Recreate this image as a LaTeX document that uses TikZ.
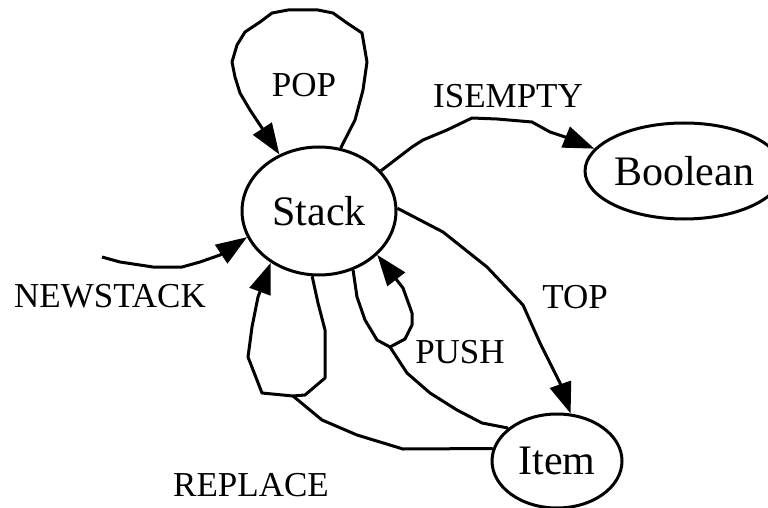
\documentclass[tikz,border=0pt]{standalone}
\usepackage{fontspec}
\setmainfont{Liberation Serif}
\usetikzlibrary{shapes.geometric,arrows.meta}

\tikzset{
  state/.style={ellipse, draw, line width=3pt, inner sep=0pt,
    font=\fontsize{42}{46}\selectfont},
  wire/.style={line width=3pt, line join=round},
  arrowed/.style={-{Triangle[length=31pt,width=22pt]}},
  oplabel/.style={font=\fontsize{35}{40}\selectfont, inner sep=0pt}
}

\begin{document}
\begin{tikzpicture}[x=1pt,y=-1pt]
\useasboundingbox (0,0) rectangle (768,508);

% sorts
\node[state, minimum width=154pt, minimum height=128pt] (stack) at (319,211) {Stack};
\node[state, minimum width=192pt, minimum height=96pt] (boolean) at (684,171) {Boolean};
\node[state, minimum width=130pt, minimum height=94pt] (item) at (557,461) {Item};

% operation names
\node[oplabel] (lpop) at (304,85) {POP};
\node[oplabel] (lisempty) at (508,96) {ISEMPTY};
\node[oplabel] (ltop) at (575,297) {TOP};
\node[oplabel] (lnewstack) at (110,296) {NEWSTACK};
\node[oplabel] (lpush) at (460,352) {PUSH};
\node[oplabel] (lreplace) at (251,485) {REPLACE};

% free end of NEWSTACK and the joins of the two-argument operations
\coordinate (newsrc) at (102,257);
\coordinate (pushjoin) at (390,347);
\coordinate (repljoin) at (293,396);

% POP : Stack -> Stack
\draw[wire,arrowed] (stack.71.6) -- (355,120) -- (363,90) -- (367,62) -- (362,33)
  -- (347,23) -- (333,13) -- (318,10) -- (288,10) -- (272,13) -- (260,22)
  -- (245,32) -- (237,45) -- (232,62) -- (235,77) -- (240,93) -- (250,110)
  -- (262,128) -- (stack.125.7);

% ISEMPTY : Stack -> Boolean
\draw[wire,arrowed] (stack.33.9) -- (412,147) -- (423,140) -- (447,130) -- (472,118)
  -- (497,119) -- (532,122) -- (550,132) -- (568,138) -- (boolean.166.4);

% TOP : Stack -> Item
\draw[wire,arrowed] (stack.2.2) -- (443,232) -- (487,267) -- (523,305) -- (540,343)
  -- (560,383) -- (item.74.2);

% NEWSTACK : -> Stack
\draw[wire,arrowed] (newsrc) -- (120,262) -- (153,267) -- (182,267) -- (200,262)
  -- (220,255) -- (stack.200.6);

% PUSH : Stack x Item -> Stack
\draw[wire,arrowed] (stack.300) -- (357,297) -- (365,320) -- (377,340) -- (pushjoin)
  -- (405,339) -- (412,325) -- (412,313) -- (403,288) -- (stack.323.9);
\draw[wire] (item.146.6) -- (482,423) -- (457,410) -- (430,393) -- (407,373) -- (pushjoin);

% REPLACE : Stack x Item -> Stack
\draw[wire,arrowed] (stack.264) -- (318,303) -- (325,330) -- (325,378) -- (305,395)
  -- (repljoin) -- (262,393) -- (248,357) -- (252,327) -- (258,297) -- (stack.227.6);
\draw[wire] (item.169.3) -- (403,449) -- (357,435) -- (322,420) -- (repljoin);

\end{tikzpicture}
\end{document}
